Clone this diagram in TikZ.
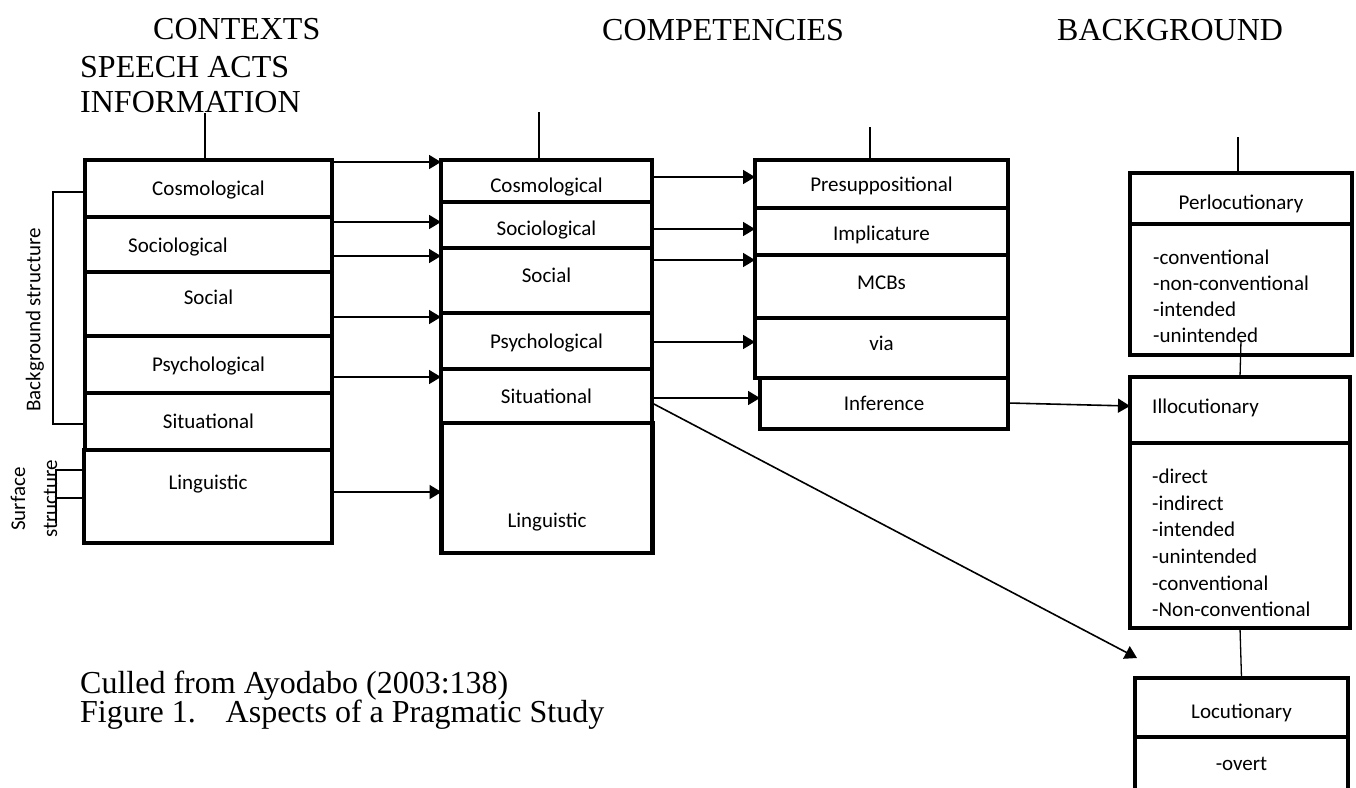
\documentclass[tikz,border=0pt]{standalone}
\usepackage{fontspec}
\setmainfont{Liberation Serif}
\newfontfamily\calib{Carlito}
\usetikzlibrary{arrows.meta}
\tikzset{
  cell/.style  = {draw, line width=4.5pt, inner sep=0pt, outer sep=0pt,
                  font=\calib\fontsize{21}{26}\selectfont,
                  text height=16pt, text depth=2pt},
  txt/.style   = {inner sep=0pt, font=\calib\fontsize{21}{26}\selectfont},
  items/.style = {inner sep=0pt, anchor=north west, align=left,
                  font=\calib\fontsize{21}{26}\selectfont},
  head/.style  = {inner sep=0pt, anchor=base west,
                  font=\fontsize{32}{36}\selectfont},
  arr/.style   = {-{Triangle[length=12pt, width=14pt]}, line width=1.6pt},
  tie/.style   = {line width=1.3pt},
}
\begin{document}
\begin{tikzpicture}[x=1pt, y=-1pt]
\useasboundingbox (0,0) rectangle (1356,787);
\clip (0,0) rectangle (1356,787);

%% ── headings ────────────────────────────────────────────────────────────────
\node[head] (ctxHead) at (153,39)  {CONTEXTS};
\node[head] (actHead) at (80,77)   {SPEECH ACTS};
\node[head] (infHead) at (80,112)  {INFORMATION};
\node[head] (cmpHead) at (602,40)  {COMPETENCIES};
\node[head] (bgHead)  at (1057,40) {BACKGROUND};

%% ── contexts column ─────────────────────────────────────────────────────────
\node[cell, minimum width=247pt, minimum height=57pt] (ctxCos) at (208.5,188.5)
  {Cosmological};
\node[cell, minimum width=247pt, minimum height=55pt] (ctxSoc) at (208.5,244.5) {};
\node[txt, anchor=base] (ctxSocT) at (178,252) {Sociological};
\node[cell, minimum width=247pt, minimum height=64pt, text depth=16pt] (ctxSocial)
  at (208.5,304) {Social};
\node[cell, minimum width=247pt, minimum height=57pt] (ctxPsy) at (208.5,364.5)
  {Psychological};
\node[cell, minimum width=247pt, minimum height=57pt] (ctxSit) at (208.5,421.5)
  {Situational};
\node[cell, minimum width=248pt, minimum height=93pt, text depth=31pt] (ctxLin)
  at (208,496.5) {Linguistic};

%% ── competencies column ─────────────────────────────────────────────────────
\node[cell, minimum width=211pt, minimum height=42pt, text height=24pt] (cmpCos)
  at (546.5,181) {Cosmological};
\node[cell, minimum width=211pt, minimum height=46pt, text height=22pt] (cmpSoc)
  at (546.5,225) {Sociological};
\node[cell, minimum width=211pt, minimum height=65pt, text depth=13pt] (cmpSocial)
  at (546.5,280.5) {Social};
\node[cell, minimum width=211pt, minimum height=56pt] (cmpPsy) at (546.5,341)
  {Psychological};
\node[cell, minimum width=211pt, minimum height=54pt] (cmpSit) at (546.5,396)
  {Situational};
\node[cell, minimum width=211pt, minimum height=130pt, text height=80pt] (cmpLin)
  at (547,488) {Linguistic};

%% ── third column ────────────────────────────────────────────────────────────
\node[cell, minimum width=253pt, minimum height=48pt] (impPre) at (881.5,184)
  {Presuppositional};
\node[cell, minimum width=253pt, minimum height=47pt, text height=19pt] (impImp)
  at (881.5,231.5) {Implicature};
\node[cell, minimum width=253pt, minimum height=63pt, text depth=11pt] (impMcb)
  at (881.5,286.5) {MCBs};
\node[cell, minimum width=253pt, minimum height=60pt, text depth=12pt] (impVia)
  at (881.5,348) {via};
\node[cell, minimum width=248pt, minimum height=51pt] (impInf) at (884,403.5)
  {Inference};

%% ── speech acts column ──────────────────────────────────────────────────────
\node[cell, minimum width=222pt, minimum height=51pt, text height=23pt] (perHead)
  at (1241,198.5) {Perlocutionary};
\node[cell, minimum width=222pt, minimum height=131pt] (perBody) at (1241,289.5) {};
\begin{scope}
  \clip (1132,226) rectangle (1350,344);
  \node[items] (perList) at (1153,250)
    {-conventional\\-non-conventional\\-intended\\-unintended};
\end{scope}

\node[cell, minimum width=220pt, minimum height=66pt] (illHead) at (1240,410) {};
\node[txt, anchor=base west] (illHeadT) at (1152,413) {Illocutionary};
\node[cell, minimum width=220pt, minimum height=185pt] (illBody) at (1240,535.5) {};
\node[items, font=\calib\fontsize{21}{26.6}\selectfont] (illList) at (1152,469)
  {-direct\\-indirect\\-intended\\-unintended\\-conventional\\-Non-conventional};

\node[cell, minimum width=213pt, minimum height=59pt, text height=23pt] (locHead)
  at (1241.5,707.5) {Locutionary};
\node[cell, minimum width=213pt, minimum height=73pt, text depth=23pt] (locBody)
  at (1241.5,773.5) {-overt};
\coordinate (locIn) at (1137,658);

%% ── side brackets ───────────────────────────────────────────────────────────
\draw[tie] (ctxCos.west |- 0,192) -- ++(-32,0) |- (ctxSit.west |- 0,424);
\node[txt, rotate=90] (bgLabel) at (35,320) {Background structure};

\draw[tie] (ctxLin.west |- 0,470) -- ++(-28,0) -- ++(0,53);
\draw[tie] (ctxLin.west |- 0,498) -- ++(-28,0);
\node[txt, rotate=90, align=center] (surfLabel) at (34,499)
  {Surface\\[6pt]structure};

%% ── ties ────────────────────────────────────────────────────────────────────
\draw[tie] ([xshift=-3.5pt]ctxCos.north) -- ([xshift=-3.5pt]ctxCos.north |- infHead.south);
\draw[tie] ([xshift=-7.5pt]cmpCos.north) -- ++(0,-48);
\draw[tie] ([xshift=-11.5pt]impPre.north) -- ++(0,-33);
\draw[tie] ([xshift=-3pt]perHead.north) -- ++(0,-36);
\draw[tie] ([yshift=15pt]perBody.south) -- (illHead.north);
\draw[tie] (illBody.south) -- (locHead.north);

%% ── arrows ──────────────────────────────────────────────────────────────────
\draw[arr] (ctxCos.east    |- 0,162) -- (cmpCos.west    |- 0,162);
\draw[arr] (ctxSoc.east    |- 0,222) -- (cmpSoc.west    |- 0,222);
\draw[arr] (ctxSoc.east    |- 0,256) -- (cmpSocial.west |- 0,256);
\draw[arr] (ctxSocial.east |- 0,317) -- (cmpPsy.west    |- 0,317);
\draw[arr] (ctxPsy.east    |- 0,377) -- (cmpSit.west    |- 0,377);
\draw[arr] (ctxLin.east    |- 0,492) -- (cmpLin.west    |- 0,492);

\draw[arr] (cmpCos.east    |- 0,177) -- (impPre.west |- 0,177);
\draw[arr] (cmpSoc.east    |- 0,229) -- (impImp.west |- 0,229);
\draw[arr] (cmpSocial.east |- 0,260) -- (impMcb.west |- 0,260);
\draw[arr] (cmpPsy.east    |- 0,342) -- (impVia.west |- 0,342);
\draw[arr] (cmpSit.east    |- 0,398) -- (impInf.west |- 0,398);
\draw[arr] (cmpSit.east    |- 0,403) -- (locIn);

\draw[arr] (impInf.east |- 0,403) -- (illHead.west |- 0,406);

%% ── caption ─────────────────────────────────────────────────────────────────
\node[head] (srcNote) at (80,693) {Culled from Ayodabo (2003:138)};
\node[head] (figCap)  at (80,722) {Figure 1.\hspace{30pt}Aspects of a Pragmatic Study};

\end{tikzpicture}
\end{document}
